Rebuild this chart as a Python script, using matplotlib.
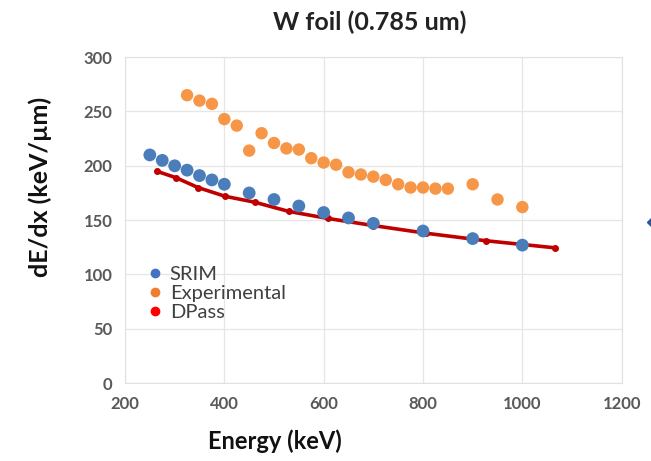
import matplotlib
matplotlib.use('Agg')
import matplotlib.pyplot as plt
from matplotlib.lines import Line2D

# ── Data ───────────────────────────────────────────────────────────
srim_e = [250, 275, 300, 325, 350, 375, 400, 450, 500, 550, 600, 650, 700, 800, 900, 1000]
srim_v = [210, 205, 200, 196, 191, 187, 183, 175, 169, 163, 157, 152, 147, 140, 133, 127]

exp_e = [325, 350, 375, 400, 425, 450, 475, 500, 525, 550, 575, 600, 625, 650,
         675, 700, 725, 750, 775, 800, 825, 850, 900, 950, 1000]
exp_v = [265, 260, 257, 243, 237, 214, 230, 221, 216, 215, 207, 203, 201, 194,
         192, 190, 187, 183, 180, 180, 179, 179, 183, 169, 162]

dpass_e = [264, 303, 347, 401, 461, 530, 609, 700, 805, 927, 1066]
dpass_v = [195, 189, 180, 172, 166.5, 158, 151.5, 145, 138, 131, 124.5]

x_ticks = [200, 400, 600, 800, 1000, 1200]
y_ticks = [0, 50, 100, 150, 200, 250, 300]

# ── Style ──────────────────────────────────────────────────────────
COL_SRIM = '#4a7ebb'
COL_EXP = '#f79646'
COL_DPASS = '#c00000'
COL_GRID = '#e6e6e6'
COL_TICK = '#595959'
FONT = ['Lato', 'DejaVu Sans']
plt.rcParams['font.family'] = FONT

fig = plt.figure(figsize=(6.51, 4.61), dpi=100, facecolor='white')
ax = fig.add_axes([0.192, 0.169, 0.763, 0.707])

ax.scatter(srim_e, srim_v, s=85, color=COL_SRIM, edgecolors='none', zorder=4)
ax.scatter(exp_e, exp_v, s=80, color=COL_EXP, edgecolors='none', zorder=4)
ax.plot(dpass_e, dpass_v, color=COL_DPASS, lw=2.6, marker='o', ms=4,
        zorder=3, solid_capstyle='round')

ax.set_xlim(200, 1200)
ax.set_ylim(0, 300)
ax.set_xticks(x_ticks)
ax.set_yticks(y_ticks)
ax.tick_params(length=0, colors=COL_TICK, labelsize=12, pad=9)
for lab in ax.get_xticklabels() + ax.get_yticklabels():
    lab.set_fontweight('bold')
ax.grid(color=COL_GRID, lw=0.9)
ax.set_axisbelow(True)
for sp in ax.spines.values():
    sp.set_color('#e0e0e0')
    sp.set_linewidth(0.8)

# ── Legend ─────────────────────────────────────────────────────────
handles = [
    Line2D([], [], ls='none', marker='o', ms=6, color='#4472c4'),
    Line2D([], [], ls='none', marker='o', ms=6, color='#ed7d31'),
    Line2D([], [], ls='none', marker='o', ms=6, color='#ff0000'),
]
ax.legend(handles, ['SRIM', 'Experimental', 'DPass'], loc='upper left',
          bbox_to_anchor=(0.025, 0.385), frameon=False, handletextpad=0.3,
          handlelength=0.9, labelspacing=0.1, borderaxespad=0,
          prop={'size': 14.5, 'family': FONT}, labelcolor='#404040')

# ── Labels ─────────────────────────────────────────────────────────
fig.text(370 / 651, 1 - 22 / 461, 'W foil (0.785 um)', ha='center', va='center',
         fontsize=18, fontweight='bold', color='#222222')
fig.text(275 / 651, 1 - 441 / 461, 'Energy (keV)', ha='center', va='center',
         fontsize=17, fontweight='bold', color='#111111')
fig.text(40 / 651, 1 - 187 / 461, 'dE/dx (keV/µm)', ha='center', va='center',
         rotation=90, fontsize=18, fontweight='bold', color='#111111')

# partial diamond at right edge
fig.add_artist(Line2D([655 / 651], [1 - 222 / 461], transform=fig.transFigure,
                      marker='D', ms=8, color='#2f5597', ls='none'))

fig.savefig('out.png', dpi=100, facecolor='white')
